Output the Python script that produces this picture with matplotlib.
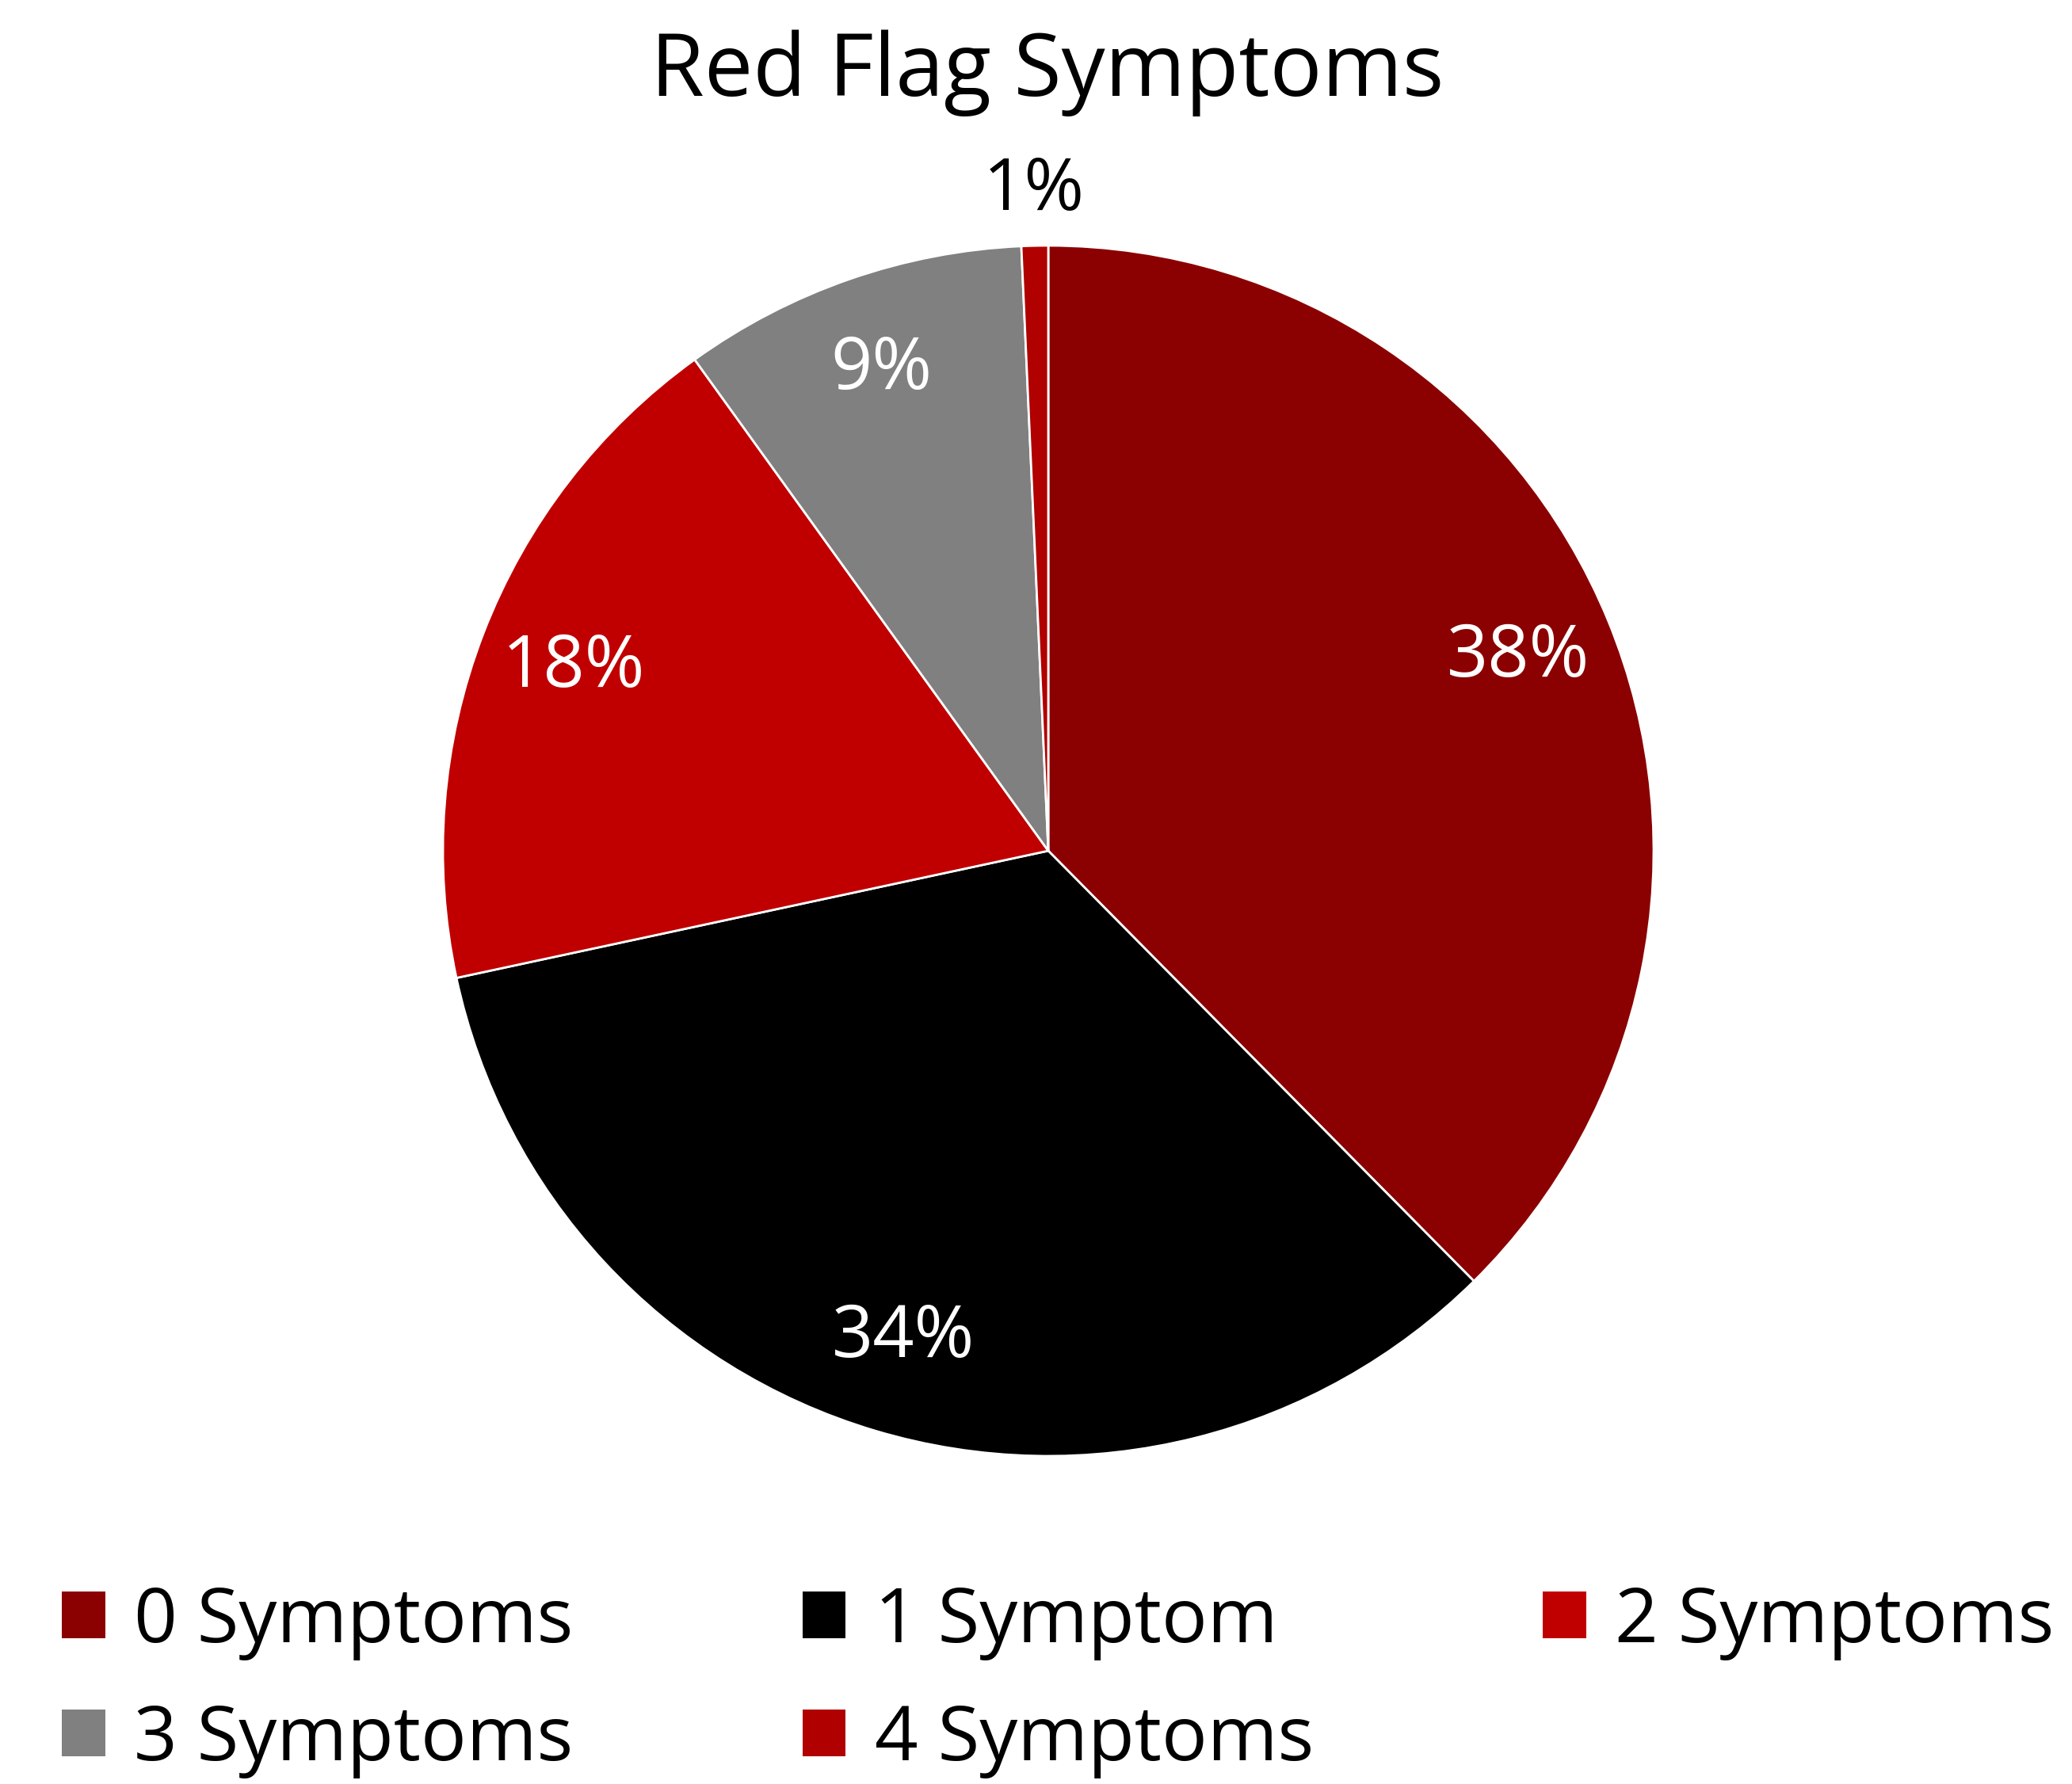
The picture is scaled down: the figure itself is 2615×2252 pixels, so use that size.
import matplotlib.pyplot as plt
from matplotlib.patches import Patch
import numpy as np

plt.rcParams['font.family'] = ['Open Sans', 'DejaVu Sans']

categories = ['0 Symptoms', '1 Symptom', '2 Symptoms', '3 Symptoms', '4 Symptoms']
counts = [53, 48, 26, 13, 1]
colors = ['#8B0000', '#000000', '#C00000', '#808080', '#B00000']
label_colors = ['white', 'white', 'white', 'white', 'black']

W, H = 2615, 2252
fig = plt.figure(figsize=(W / 100, H / 100), dpi=100)

# pie centre and radius in pixels
cx, cy, r = 1323, 1074, 764
ax = fig.add_axes([(cx - r) / W, 1 - (cy + r) / H, 2 * r / W, 2 * r / H])

wedges, texts, autotexts = ax.pie(
    counts, colors=colors, startangle=90, counterclock=False,
    autopct='%1.0f%%', pctdistance=0.84,
    wedgeprops=dict(edgecolor='white', linewidth=2),
    textprops=dict(fontsize=66),
)
for t, c in zip(autotexts, label_colors):
    t.set_color(c)

# small slice label sits outside the pie
w = wedges[-1]
mid = np.deg2rad((w.theta1 + w.theta2) / 2)
autotexts[-1].set_position((1.09 * np.cos(mid), 1.09 * np.sin(mid)))

ax.set_xlim(-1, 1)
ax.set_ylim(-1, 1)
ax.set_aspect('equal')
ax.axis('off')

fig.text(0.5055, 1 - 92 / H, 'Red Flag Symptoms', fontsize=79,
         ha='center', va='center')

# legend fills column-first; reorder so it reads row by row
order = [0, 3, 1, 4, 2]
handles = [Patch(facecolor=colors[i]) for i in order]
labels = [categories[i] for i in order]
fig.legend(handles, labels, loc='upper left', ncol=3,
           bbox_to_anchor=(78 / W, 1 - 2000 / H), frameon=False,
           fontsize=69, borderpad=0, borderaxespad=0,
           handlelength=0.57, handleheight=0.57, handletextpad=0.38,
           columnspacing=3.02, labelspacing=0.56)

fig.savefig('out.png', dpi=100)
